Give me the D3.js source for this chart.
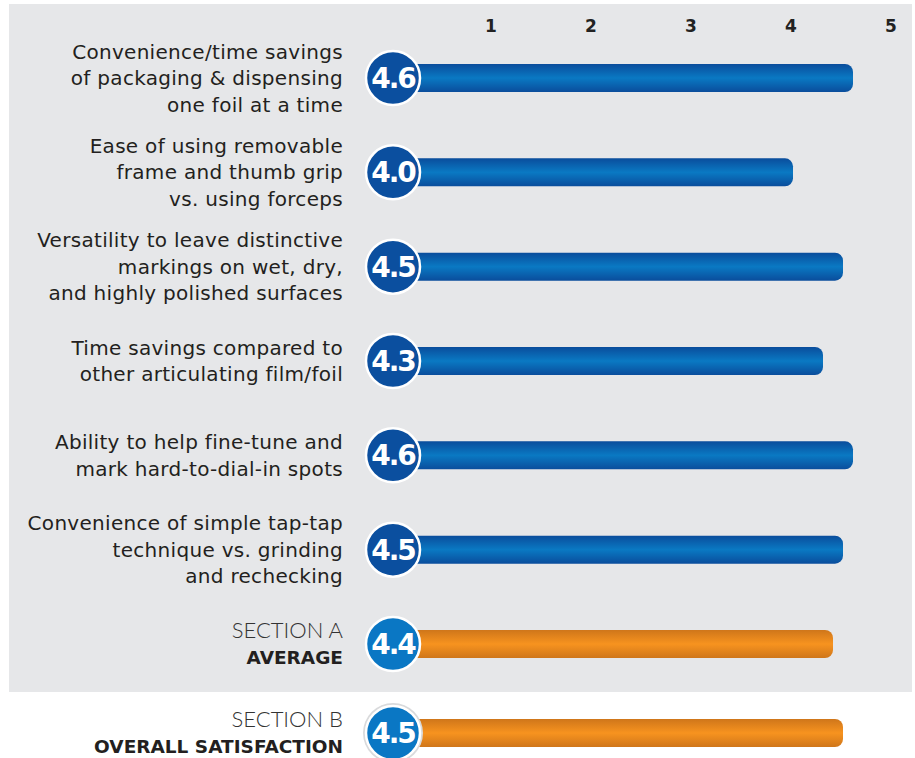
<!DOCTYPE html>
<html lang="en">
<head>
  <meta charset="UTF-8">
  <title>Satisfaction Ratings</title>
  <script src="https://d3js.org/d3.v7.min.js"></script>
  <style>
    body {
      margin: 0;
      background-color: #ffffff;
      font-family: "DejaVu Sans", "Noto Sans", sans-serif;
    }
    svg { display: block; }
  </style>
</head>
<body>
  <svg id="chart" width="915" height="758"></svg>

  <script>
    // Section A items (labels split into lines as printed)
    const itemLabels = [
      ["Convenience/time savings", "of packaging & dispensing", "one foil at a time"],
      ["Ease of using removable", "frame and thumb grip", "vs. using forceps"],
      ["Versatility to leave distinctive", "markings on wet, dry,", "and highly polished surfaces"],
      ["Time savings compared to", "other articulating film/foil"],
      ["Ability to help fine-tune and", "mark hard-to-dial-in spots"],
      ["Convenience of simple tap-tap", "technique vs. grinding", "and rechecking"]
    ];
    const itemValues = [4.6, 4.0, 4.5, 4.3, 4.6, 4.5];
    const averageValue = 4.4;
    const overallValue = 4.5;
    const tickValues = [1, 2, 3, 4, 5];

    const svg = d3.select("#chart");
    const x = d3.scaleLinear().domain([0, 5]).range([393, 893]);

    // rows of the gray panel: six items + section A average
    const rowKeys = d3.range(7);
    const y = d3.scalePoint().domain(rowKeys).range([78, 644]);
    const yOverall = y(6) + 89;

    const defs = svg.append("defs");
    function grad(id, edge, mid) {
      const g = defs.append("linearGradient").attr("id", id)
        .attr("x1", 0).attr("y1", 0).attr("x2", 0).attr("y2", 1);
      g.append("stop").attr("offset", "0%").attr("stop-color", edge);
      g.append("stop").attr("offset", "50%").attr("stop-color", mid);
      g.append("stop").attr("offset", "100%").attr("stop-color", edge);
    }
    grad("blueBar", "#0a4d9c", "#0a79c3");
    grad("orangeBar", "#cf761a", "#f7931f");

    // gray panel
    svg.append("rect")
      .attr("x", 9).attr("y", 4)
      .attr("width", 903).attr("height", 688)
      .attr("fill", "#e6e7e9");

    // top axis labels
    svg.append("g")
      .selectAll("text")
      .data(tickValues)
      .join("text")
      .attr("x", d => x(d) - 2)
      .attr("y", 32)
      .attr("text-anchor", "middle")
      .attr("font-size", 17)
      .attr("font-weight", 600)
      .attr("fill", "#222")
      .text(d => d);

    const rows = itemValues.map((v, i) => ({
      lines: itemLabels[i], value: v, y: y(i), fill: "url(#blueBar)", circle: "#0b4f9f", kind: "item"
    }));
    rows.push({ lines: ["SECTION A", "AVERAGE"], value: averageValue, y: y(6),
      fill: "url(#orangeBar)", circle: "#0a77c4", kind: "section" });
    rows.push({ lines: ["SECTION B", "OVERALL SATISFACTION"], value: overallValue, y: yOverall,
      fill: "url(#orangeBar)", circle: "#0a77c4", kind: "section" });

    const lineH = 26.5;
    const barH = 28;

    const row = svg.selectAll(".row")
      .data(rows)
      .join("g")
      .attr("class", "row");

    // bars
    row.append("rect")
      .attr("x", x(0))
      .attr("y", d => d.y - barH / 2)
      .attr("width", d => x(d.value) - x(0))
      .attr("height", barH)
      .attr("rx", 8).attr("ry", 8)
      .attr("fill", d => d.fill);

    // labels
    row.append("text")
      .attr("text-anchor", "end")
      .attr("fill", "#231f20")
      .each(function(d) {
        const t = d3.select(this);
        const n = d.lines.length;
        d.lines.forEach((line, i) => {
          const head = d.kind === "section" && i === 0;
          const bold = d.kind === "section" && i === 1;
          t.append("tspan")
            .attr("x", 343)
            .attr("y", d.y + (i - (n - 1) / 2) * lineH + 7)
            .attr("font-family", head ? "Lato, 'DejaVu Sans', sans-serif" : null)
            .attr("font-weight", head ? 300 : bold ? 700 : 400)
            .attr("font-size", head ? 22 : bold ? 18.5 : 20)
            .attr("letter-spacing", head || bold ? 0 : 0.3)
            .attr("fill", head ? "#333" : "#231f20")
            .text(line);
        });
      });

    // value badges
    row.filter(d => d.y > 700).append("circle")
      .attr("cx", x(0)).attr("cy", d => d.y)
      .attr("r", 30)
      .attr("fill", "#d9dadc");

    row.append("circle")
      .attr("cx", x(0))
      .attr("cy", d => d.y)
      .attr("r", 27)
      .attr("fill", d => d.circle)
      .attr("stroke", "#ffffff")
      .attr("stroke-width", 2.5);

    row.append("text")
      .attr("x", x(0))
      .attr("y", d => d.y + 10)
      .attr("text-anchor", "middle")
      .attr("fill", "#ffffff")
      .attr("font-size", 28)
      .attr("font-weight", 700)
      .attr("letter-spacing", -2)
      .text(d => d.value.toFixed(1));
  </script>
</body>
</html>
